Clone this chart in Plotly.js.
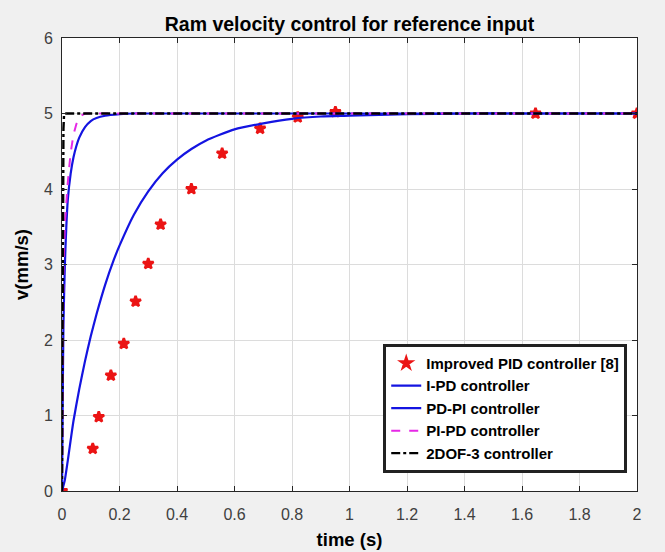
<!DOCTYPE html>
<html>
<head>
<meta charset="utf-8">
<script src="https://cdn.plot.ly/plotly-3.0.1.min.js"></script>
<style>html,body{margin:0;padding:0;background:#f0f0f0;}#chart{width:665px;height:552px;}</style>
</head>
<body>
<div id="chart"></div>
<script>
// Improved PID controller [8] (markers)
var pidT = [0, 0.107, 0.128, 0.17, 0.215, 0.256, 0.30, 0.343, 0.45, 0.557, 0.689, 0.82, 0.951, 1.647, 2.0];
var pidV = [0, 0.56, 0.98, 1.53, 1.95, 2.51, 3.01, 3.53, 4.0, 4.47, 4.80, 4.95, 5.02, 5.0, 5.0];

// I-PD controller (slow blue)
var ipdT = [0, 0.01, 0.02, 0.03, 0.04, 0.06, 0.08, 0.1, 0.12, 0.15, 0.18, 0.2, 0.25, 0.3, 0.35, 0.4, 0.45, 0.5, 0.6, 0.7, 0.8, 0.9, 1.0, 1.2, 1.4, 1.6, 1.8, 2.0];
var ipdV = [0, 0.15, 0.4, 0.67, 0.93, 1.35, 1.72, 2.05, 2.34, 2.73, 3.06, 3.25, 3.66, 3.97, 4.21, 4.39, 4.53, 4.64, 4.79, 4.87, 4.93, 4.96, 4.97, 4.99, 5.0, 5.0, 5.0, 5.0];

// PD-PI controller (fast blue)
var pdpiT = [0, 0.002, 0.005, 0.01, 0.015, 0.02, 0.03, 0.04, 0.05, 0.06, 0.08, 0.1, 0.12, 0.15, 0.2, 0.25, 0.3, 0.4, 2.0];
var pdpiV = [0, 1.0, 2.2, 3.0, 3.5, 3.85, 4.2, 4.42, 4.57, 4.68, 4.82, 4.9, 4.94, 4.97, 4.99, 5.0, 5.0, 5.0, 5.0];

// PI-PD controller (magenta dashed)
var pipdT = [0, 0.002, 0.005, 0.01, 0.015, 0.02, 0.03, 0.04, 0.05, 0.06, 0.07, 0.08, 2.0];
var pipdV = [0, 1.5, 2.9, 3.55, 3.88, 4.08, 4.48, 4.72, 4.86, 4.94, 4.98, 5.0, 5.0];

// 2DOF-3 controller (black dash-dot)
var dofT = [0, 0.001, 0.003, 0.005, 0.007, 0.01, 2.0];
var dofV = [0, 1.8, 4.2, 4.8, 4.97, 5.0, 5.0];

var xTicks = [0, 0.2, 0.4, 0.6, 0.8, 1, 1.2, 1.4, 1.6, 1.8, 2];
var xTickText = ['0', '0.2', '0.4', '0.6', '0.8', '1', '1.2', '1.4', '1.6', '1.8', '2'];
var yTicks = [0, 1, 2, 3, 4, 5, 6];

var blue = 'rgb(20,20,225)';
var red = 'rgb(235,20,20)';
var traces = [
  {x: pidT, y: pidV, mode: 'markers', type: 'scatter', name: 'Improved PID controller [8]',
   marker: {symbol: 'star', size: 8, color: red, line: {color: red, width: 2.5}}},
  {x: ipdT, y: ipdV, mode: 'lines', type: 'scatter', name: 'I-PD controller',
   line: {color: blue, width: 2.2, shape: 'spline', smoothing: 0.6}},
  {x: pdpiT, y: pdpiV, mode: 'lines', type: 'scatter', name: 'PD-PI controller',
   line: {color: blue, width: 2.2, shape: 'spline', smoothing: 0.6}},
  {x: pipdT, y: pipdV, mode: 'lines', type: 'scatter', name: 'PI-PD controller',
   line: {color: 'rgb(230,40,230)', width: 2, dash: 'dash'}},
  {x: dofT, y: dofV, mode: 'lines', type: 'scatter', name: '2DOF-3 controller',
   line: {color: 'black', width: 2.4, dash: 'dashdot'}}
];

var fontFam = '"Liberation Sans", Arial, sans-serif';
var layout = {
  width: 665, height: 552,
  paper_bgcolor: '#f0f0f0', plot_bgcolor: '#ffffff',
  margin: {l: 62, r: 28, t: 38, b: 61},
  font: {family: fontFam, size: 16, color: '#404040'},
  title: {text: 'Ram velocity control for reference input', x: 0.5, xref: 'paper', xanchor: 'center',
          y: 0.956, yref: 'container', yanchor: 'middle',
          font: {family: fontFam, size: 19.5, color: '#000', weight: 'bold'}},
  xaxis: {range: [0, 2], tickvals: xTicks, ticktext: xTickText, ticks: 'inside', ticklen: 5,
          ticklabelstandoff: 9,
          tickcolor: '#262626', showline: true, linecolor: '#262626', linewidth: 1, mirror: 'ticks',
          showgrid: true, gridcolor: '#dcdcdc', zeroline: false,
          title: {text: 'time (s)', standoff: 10, font: {family: fontFam, size: 18.5, color: '#000', weight: 'bold'}}},
  yaxis: {range: [0, 6], tickvals: yTicks, ticks: 'inside', ticklen: 5,
          ticklabelstandoff: 5,
          tickcolor: '#262626', showline: true, linecolor: '#262626', linewidth: 1, mirror: 'ticks',
          showgrid: true, gridcolor: '#dcdcdc', zeroline: false,
          title: {text: 'v(mm/s)', standoff: 10, font: {family: fontFam, size: 18.5, color: '#000', weight: 'bold'}}},
  showlegend: true,
  legend: {x: 0.983, xanchor: 'right', y: 0.04, yanchor: 'bottom', bgcolor: '#ffffff',
           bordercolor: '#222', borderwidth: 3,
           font: {family: fontFam, size: 15, color: '#000', weight: 'bold'}}
};

Plotly.newPlot('chart', traces, layout, {displayModeBar: false, staticPlot: true});
</script>
</body>
</html>
